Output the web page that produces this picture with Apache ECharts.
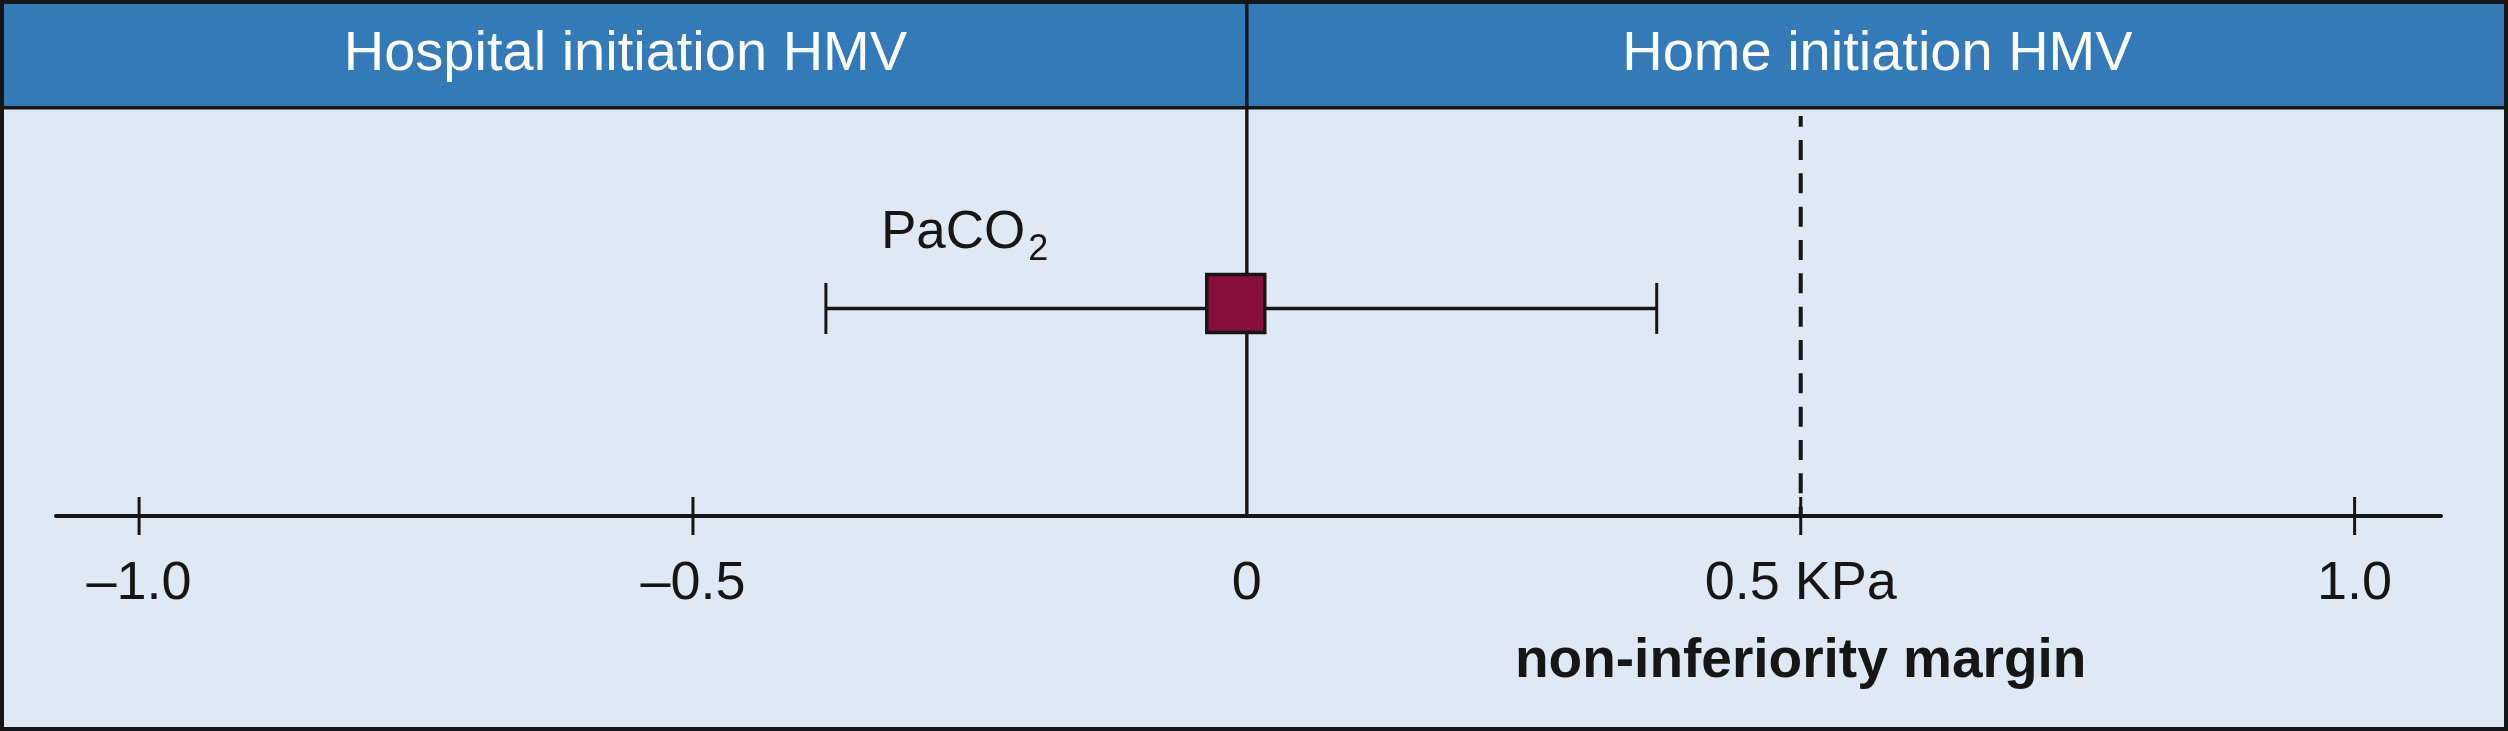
<!DOCTYPE html>
<html>
<head>
<meta charset="utf-8">
<script src="https://cdn.jsdelivr.net/npm/echarts@6/dist/echarts.min.js"></script>
<style>
html,body{margin:0;padding:0;background:#DFE9F5;}
#chart{width:2508px;height:731px;}
</style>
</head>
<body>
<div id="chart"></div>
<script>
// ---- data ----
const panelTitles = ['Hospital initiation HMV', 'Home initiation HMV'];
const tickValues = [-1.0, -0.5, 0, 0.5, 1.0];
const tickLabels = ['\u20131.0', '\u20130.5', '0', '0.5 KPa', '1.0'];
const outcomeNames = ['PaCO', '2']; // name + subscript
const estimates = [-0.01];
const ciLower = [-0.38];
const ciUpper = [0.37];
const rowPositions = [0.51];
const marginValues = [0.5];
const marginLabels = ['non-inferiority margin'];
const xMin = -1.075, xMax = 1.078;

const FONT = '"Liberation Sans", Arial, Helvetica, sans-serif';
const INK = '#161616';
const HEADER_BLUE = '#3479B8';
const PANEL_BG = '#DFE9F5';
const MARKER = '#870F3A';

const chart = echarts.init(document.getElementById('chart'), null, {renderer: 'canvas'});

const option = {
  animation: false,
  backgroundColor: PANEL_BG,
  grid: {left: 56, right: 67, top: 109, bottom: 215},
  xAxis: {
    type: 'value', min: xMin, max: xMax,
    axisLine: {show: true, onZero: false, lineStyle: {color: INK, width: 4}},
    axisTick: {show: false}, axisLabel: {show: false}, splitLine: {show: false}
  },
  yAxis: {type: 'value', min: 0, max: 1, show: false},
  series: [
    {
      // reference lines: zero line and non-inferiority margin
      type: 'custom', name: 'refs', clip: false, z: 3,
      data: [[0, -1]].concat(marginValues.map((v, i) => [v, i])),
      renderItem: function (params, api) {
        const v = api.value(0), idx = api.value(1);
        const bottom = api.coord([v, 0]);
        const top = api.coord([v, 1]);
        if (idx < 0) {
          return {type: 'line', shape: {x1: bottom[0], y1: 0, x2: bottom[0], y2: bottom[1]},
            style: {stroke: INK, lineWidth: 3.4}};
        }
        return {type: 'group', children: [
          {type: 'line', shape: {x1: top[0], y1: top[1] + 7, x2: top[0], y2: bottom[1]},
            style: {stroke: INK, lineWidth: 4, lineDash: [20, 13.33], lineDashOffset: 9.3}},
          {type: 'text', style: {text: marginLabels[idx], x: bottom[0], y: bottom[1] + 146,
            align: 'center', verticalAlign: 'middle', fill: INK,
            font: 'bold 55px ' + FONT}}
        ]};
      }
    },
    {
      // axis ticks crossing the axis + tick labels
      type: 'custom', name: 'ticks', clip: false, z: 3,
      data: tickValues.map((v, i) => [v, i]),
      renderItem: function (params, api) {
        const v = api.value(0), i = api.value(1);
        const p = api.coord([v, 0]);
        const children = [];
        if (v !== 0) {
          children.push({type: 'line', shape: {x1: p[0], y1: p[1] - 19, x2: p[0], y2: p[1] + 19},
            style: {stroke: INK, lineWidth: 3}});
        }
        children.push({type: 'text', style: {text: tickLabels[i], x: p[0], y: p[1] + 68,
          align: 'center', verticalAlign: 'middle', fill: INK, font: '54px ' + FONT}});
        return {type: 'group', children: children};
      }
    },
    {
      // confidence interval
      type: 'custom', name: 'ci', clip: false, z: 4,
      data: estimates.map((e, i) => [ciLower[i], ciUpper[i], rowPositions[i], i]),
      renderItem: function (params, api) {
        const lo = api.coord([api.value(0), api.value(2)]);
        const hi = api.coord([api.value(1), api.value(2)]);
        const y = lo[1];
        return {type: 'group', children: [
          {type: 'line', shape: {x1: lo[0], y1: y, x2: hi[0], y2: y}, style: {stroke: INK, lineWidth: 3.4}},
          {type: 'line', shape: {x1: lo[0], y1: y - 25.5, x2: lo[0], y2: y + 25.5}, style: {stroke: INK, lineWidth: 3}},
          {type: 'line', shape: {x1: hi[0], y1: y - 25.5, x2: hi[0], y2: y + 25.5}, style: {stroke: INK, lineWidth: 3}},
          {type: 'text', style: {
            text: '{m|' + outcomeNames[0] + '}{s|' + outcomeNames[1] + '}',
            x: lo[0] + 55, y: y - 75, align: 'left', verticalAlign: 'middle', fill: INK,
            font: '53px ' + FONT,
            rich: {
              m: {fontSize: 53, fontFamily: FONT, fill: INK},
              s: {fontSize: 36, fontFamily: FONT, fill: INK, padding: [34, 0, 0, 3]}
            }
          }}
        ]};
      }
    },
    {
      type: 'scatter', name: 'estimate', z: 5,
      data: estimates.map((e, i) => [e, rowPositions[i]]),
      symbol: 'rect', symbolSize: 58, symbolOffset: [0, -5],
      itemStyle: {color: MARKER, borderColor: INK, borderWidth: 3.5, opacity: 1}
    }
  ]
};
chart.setOption(option);

const zeroX = chart.convertToPixel({xAxisIndex: 0}, 0);
const W = 2508, H = 731;
chart.setOption({
  graphic: [
    {type: 'rect', z: 0, silent: true, shape: {x: 0, y: 0, width: W, height: 107.7}, style: {fill: HEADER_BLUE}},
    {type: 'line', z: 1, silent: true, shape: {x1: 0, y1: 107.7, x2: W, y2: 107.7}, style: {stroke: INK, lineWidth: 3.4}},
    {type: 'text', z: 1, silent: true, style: {text: panelTitles[0], x: zeroX / 2 + 2, y: 55,
      align: 'center', verticalAlign: 'middle', fill: '#ffffff', font: '56px ' + FONT}},
    {type: 'text', z: 1, silent: true, style: {text: panelTitles[1], x: (zeroX + W) / 2, y: 55,
      align: 'center', verticalAlign: 'middle', fill: '#ffffff', font: '56px ' + FONT}},
    {type: 'rect', z: 50, silent: true, shape: {x: 2, y: 2, width: W - 4, height: H - 4},
      style: {fill: 'transparent', stroke: INK, lineWidth: 4}}
  ]
});
</script>
</body>
</html>
